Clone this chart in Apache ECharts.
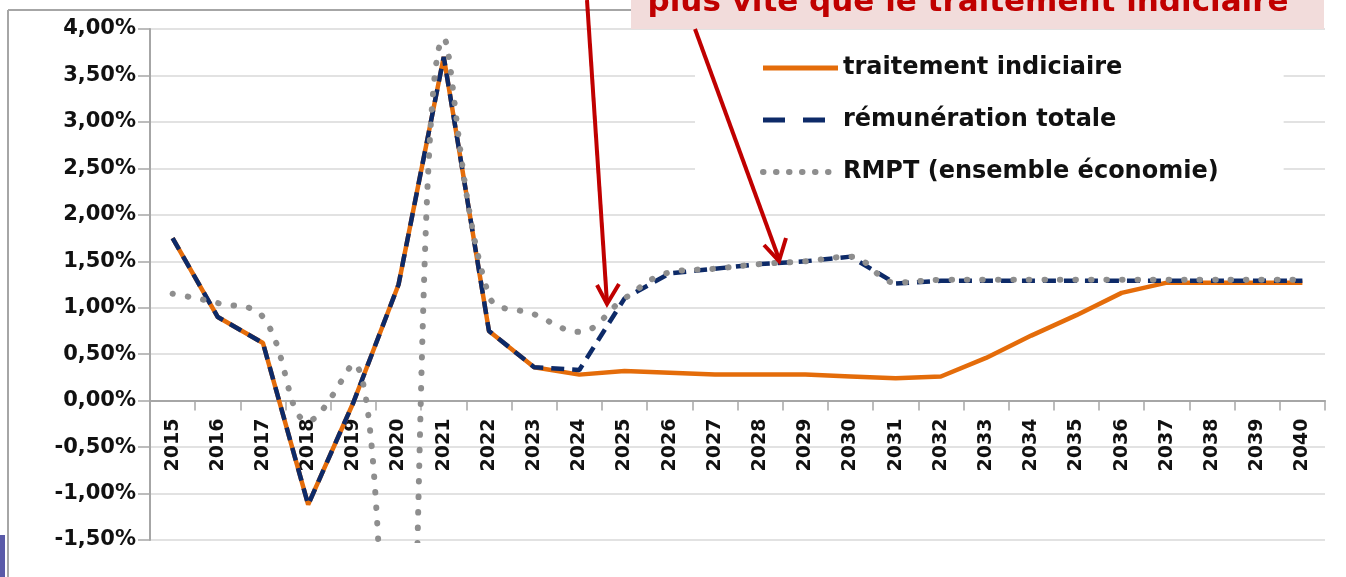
<!DOCTYPE html>
<html>
<head>
<meta charset="utf-8">
<script src="https://cdn.jsdelivr.net/npm/echarts@6/dist/echarts.min.js"></script>
<style>
  html, body { margin: 0; padding: 0; background: #fff; }
  #chart { width: 1346px; height: 577px; }
</style>
</head>
<body>
<div id="chart"></div>
<script>
// années
const years = ["2015", "2016", "2017", "2018", "2019", "2020", "2021", "2022", "2023",
  "2024", "2025", "2026", "2027", "2028", "2029", "2030", "2031", "2032", "2033",
  "2034", "2035", "2036", "2037", "2038", "2039", "2040"];

// évolutions en %
const traitement = [1.75, 0.9, 0.62, -1.12, -0.02, 1.25, 3.7, 0.75, 0.36, 0.28, 0.32, 0.3, 0.28,
  0.28, 0.28, 0.26, 0.24, 0.26, 0.46, 0.7, 0.92, 1.16, 1.27, 1.27, 1.27, 1.27];
const remuneration = [1.75, 0.9, 0.62, -1.12, -0.02, 1.25, 3.7, 0.75, 0.36, 0.33, 1.1, 1.37, 1.42,
  1.47, 1.5, 1.55, 1.26, 1.29, 1.29, 1.29, 1.29, 1.29, 1.29, 1.29, 1.29, 1.29];
const rmpt = [1.15, 1.05, 0.9, -0.22, 0.4, -5.5, 3.9, 1.13, 0.93, 0.74, 1.1, 1.38, 1.42,
  1.47, 1.5, 1.55, 1.27, 1.3, 1.3, 1.3, 1.3, 1.3, 1.3, 1.3, 1.3, 1.3];

const seriesNames = ["traitement indiciaire", "rémunération totale", "RMPT (ensemble économie)"];
const noteText = "plus vite que le traitement indiciaire";

const orange = "#e46c0a";
const navy = "#0d2a68";
const grey = "#8e8e8e";
const red = "#c00000";
const font = "DejaVu Sans";

const chart = echarts.init(document.getElementById("chart"));

const hideSymbol = { opacity: 0, borderWidth: 0 };

const option = {
  animation: false,
  grid: { left: 150, right: 21, top: 29, bottom: 37, outerBoundsMode: "none", containLabel: false },
  legend: {
    orient: "vertical",
    left: 695,
    top: 30,
    padding: [26, 65, 11, 65],
    backgroundColor: "#fff",
    itemWidth: 75,
    itemHeight: 24,
    itemGap: 28,
    selectedMode: false,
    textStyle: { fontFamily: font, fontSize: 24, fontWeight: "bold", color: "#111", lineHeight: 24 },
    data: [
      { name: seriesNames[0], itemStyle: hideSymbol, lineStyle: { color: orange, width: 5, type: "solid" } },
      { name: seriesNames[1], itemStyle: hideSymbol, lineStyle: { color: navy, width: 5, type: [22, 18] } },
      { name: seriesNames[2], itemStyle: hideSymbol, lineStyle: { color: grey, width: 6, type: [0.5, 12.5], cap: "round" } }
    ]
  },
  xAxis: {
    type: "category",
    data: years,
    boundaryGap: true,
    // l'axe des années passe par 0 %
    offset: -139.4,
    axisLine: { onZero: false, lineStyle: { color: "#a6a6a6", width: 2 } },
    axisTick: { show: true, length: 10, lineStyle: { color: "#a6a6a6", width: 1.5 } },
    axisLabel: {
      rotate: 90,
      margin: 18,
      fontFamily: font,
      fontSize: 19,
      fontWeight: "bold",
      color: "#111"
    }
  },
  yAxis: {
    type: "value",
    min: -1.5,
    max: 4,
    interval: 0.5,
    axisLine: { show: true, lineStyle: { color: "#a6a6a6", width: 2 } },
    axisTick: { show: true, length: 12, lineStyle: { color: "#a6a6a6", width: 1.5 } },
    splitLine: { lineStyle: { color: "#d9d9d9", width: 1.5 } },
    axisLabel: {
      margin: 14,
      fontFamily: font,
      fontSize: 21,
      fontWeight: "bold",
      color: "#111",
      formatter: (v) => v.toFixed(2).replace(".", ",") + "%"
    }
  },
  series: [
    {
      name: seriesNames[0],
      type: "line",
      data: traitement,
      symbol: "none",
      lineStyle: { color: orange, width: 4.5 },
      itemStyle: { color: orange }
    },
    {
      name: seriesNames[1],
      type: "line",
      data: remuneration,
      symbol: "none",
      lineStyle: { color: navy, width: 4.5, type: [13, 8] },
      itemStyle: { color: navy }
    },
    {
      name: seriesNames[2],
      type: "line",
      data: rmpt,
      symbol: "none",
      smooth: 0.4,
      lineStyle: { color: grey, width: 6, type: [0.5, 15], cap: "round" },
      itemStyle: { color: grey }
    }
  ],
  graphic: [
    // cadre gris
    { type: "line", z: 1, shape: { x1: 8, y1: 10, x2: 640, y2: 10 }, style: { stroke: "#a6a6a6", lineWidth: 2 } },
    { type: "line", z: 1, shape: { x1: 8, y1: 10, x2: 8, y2: 577 }, style: { stroke: "#a6a6a6", lineWidth: 2 } },
    { type: "rect", z: 1, shape: { x: 0, y: 535, width: 5, height: 42 }, style: { fill: "#5a5aa8" } },
    // encadré rose
    { type: "rect", z: 20, shape: { x: 631, y: 0, width: 693, height: 29 }, style: { fill: "#f2dcdb" } },
    {
      type: "text", z: 21, x: 968, y: 3,
      style: { text: noteText, font: "bold 31px 'DejaVu Sans'", fill: red, align: "center", verticalAlign: "middle" }
    },
    // flèches
    { type: "polyline", z: 22, shape: { points: [[587, 0], [607, 303]] }, style: { stroke: red, lineWidth: 4 } },
    { type: "polyline", z: 22, shape: { points: [[597, 285], [607, 304], [619, 284]] }, style: { stroke: red, lineWidth: 4, fill: null, lineJoin: "miter" } },
    { type: "polyline", z: 22, shape: { points: [[695, 29], [779, 259]] }, style: { stroke: red, lineWidth: 4 } },
    { type: "polyline", z: 22, shape: { points: [[764, 245], [779, 261], [786, 238]] }, style: { stroke: red, lineWidth: 4, fill: null, lineJoin: "miter" } }
  ]
};

chart.setOption(option);
</script>
</body>
</html>
